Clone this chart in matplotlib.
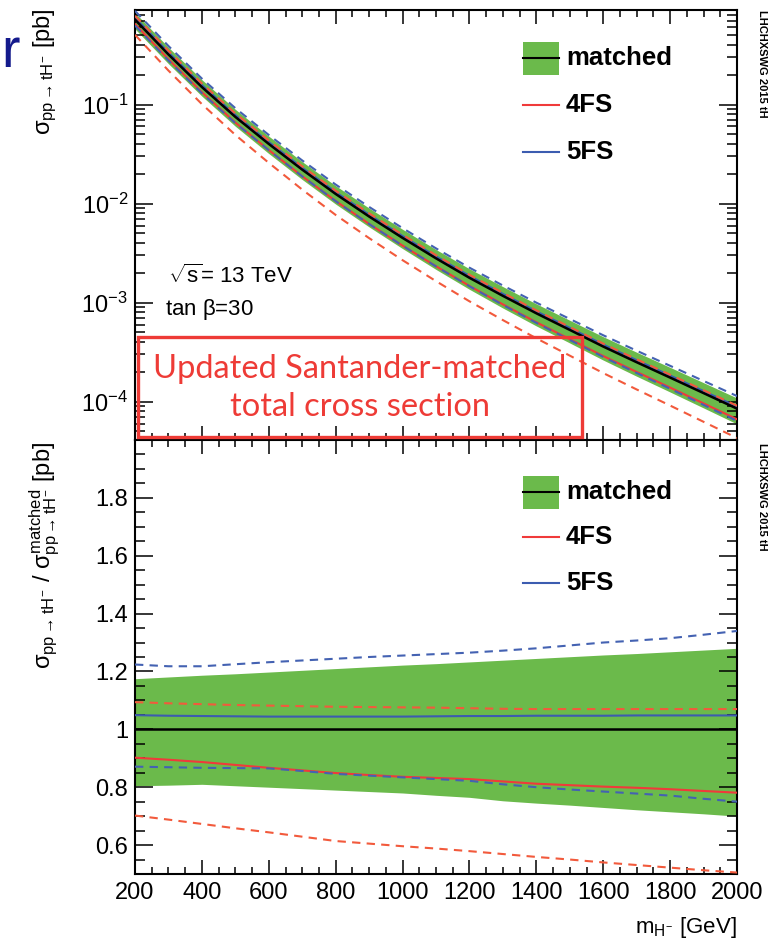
import math
import matplotlib
matplotlib.use("Agg")
import matplotlib.pyplot as plt
from matplotlib.patches import Rectangle
from matplotlib.lines import Line2D
from matplotlib.ticker import MultipleLocator, FixedLocator, LogLocator, FuncFormatter, NullFormatter

plt.rcParams['font.family'] = ['Liberation Sans', 'DejaVu Sans']
plt.rcParams['mathtext.fontset'] = 'custom'
plt.rcParams['mathtext.rm'] = 'Liberation Sans'
plt.rcParams['mathtext.it'] = 'Liberation Sans'
plt.rcParams['mathtext.bf'] = 'Liberation Sans:bold'

# ---------------- data ----------------
mass = [200, 300, 400, 500, 600, 700, 800, 900, 1000, 1100, 1200,
        1300, 1400, 1500, 1600, 1700, 1800, 1900, 2000]
xsec_matched = [0.72, 0.32, 0.15, 0.075, 0.040, 0.022, 0.0125, 0.0074, 0.0045,
                0.0028, 0.00178, 0.00117, 0.00078, 0.00053, 0.00036, 0.00025,
                0.000175, 0.000122, 0.000085]
band_up = [1.175, 1.181, 1.187, 1.192, 1.198, 1.204, 1.210, 1.216, 1.222, 1.227,
           1.233, 1.239, 1.245, 1.251, 1.257, 1.262, 1.268, 1.274, 1.280]
band_dn = [0.805, 0.807, 0.810, 0.805, 0.800, 0.795, 0.790, 0.785, 0.780, 0.772,
           0.765, 0.753, 0.745, 0.738, 0.730, 0.722, 0.715, 0.708, 0.700]
ratio_4fs = [0.902, 0.895, 0.887, 0.877, 0.867, 0.858, 0.849, 0.842, 0.836, 0.832,
             0.828, 0.820, 0.812, 0.807, 0.802, 0.798, 0.793, 0.787, 0.781]
ratio_4fs_up = [1.094, 1.090, 1.087, 1.084, 1.082, 1.080, 1.078, 1.077, 1.076, 1.075,
                1.073, 1.071, 1.070, 1.070, 1.070, 1.070, 1.070, 1.070, 1.070]
ratio_4fs_dn = [0.702, 0.688, 0.673, 0.658, 0.644, 0.629, 0.614, 0.605, 0.596, 0.588,
                0.579, 0.569, 0.559, 0.550, 0.540, 0.531, 0.522, 0.513, 0.505]
ratio_5fs = [1.049, 1.047, 1.046, 1.045, 1.044, 1.044, 1.044, 1.044, 1.044, 1.045,
             1.046, 1.046, 1.047, 1.047, 1.047, 1.048, 1.048, 1.048, 1.048]
ratio_5fs_up = [1.224, 1.218, 1.218, 1.225, 1.232, 1.238, 1.244, 1.250, 1.255, 1.260,
                1.265, 1.272, 1.280, 1.290, 1.300, 1.307, 1.315, 1.327, 1.340]
ratio_5fs_dn = [0.871, 0.869, 0.867, 0.866, 0.865, 0.856, 0.846, 0.840, 0.834, 0.828,
                0.822, 0.810, 0.800, 0.792, 0.785, 0.778, 0.771, 0.760, 0.750]

xticks = [200, 400, 600, 800, 1000, 1200, 1400, 1600, 1800, 2000]
ratio_ticks = [0.6, 0.8, 1.0, 1.2, 1.4, 1.6, 1.8]
log_ticks = [1e-4, 1e-3, 1e-2, 1e-1]

GREEN = '#6bba4b'
RED = '#f03a3a'
REDD = '#f25a3c'
BLUE = '#3c5cb0'
BLUED = '#4462b2'
BOXRED = '#ee3b36'

W, H = 781, 942
fig = plt.figure(figsize=(W / 100, H / 100), dpi=100)

def fx(px):
    return px / W

def fy(py):
    return 1 - py / H

L, R = 135, 737
ax1 = fig.add_axes([fx(L), fy(440), fx(R - L), (440 - 10) / H])
ax2 = fig.add_axes([fx(L), fy(874), fx(R - L), (874 - 440) / H])

def prod(a, b):
    return [x * y for x, y in zip(a, b)]

DASH = (0, (4.0, 3.0))

# ---- top panel ----
ax1.fill_between(mass, prod(xsec_matched, band_dn), prod(xsec_matched, band_up),
                 color=GREEN, lw=0, zorder=1)
ax1.plot(mass, prod(xsec_matched, ratio_4fs), color=RED, lw=1.5, zorder=3)
ax1.plot(mass, prod(xsec_matched, ratio_5fs), color=BLUE, lw=1.5, zorder=3)
ax1.plot(mass, xsec_matched, color='black', lw=1.8, zorder=4)
for r, c in [(ratio_4fs_up, REDD), (ratio_4fs_dn, REDD), (ratio_5fs_up, BLUED), (ratio_5fs_dn, BLUED)]:
    ax1.plot(mass, prod(xsec_matched, r), color=c, lw=1.5, ls=DASH, zorder=5)
ax1.set_yscale('log')
ax1.set_xlim(200, 2000)
ax1.set_ylim(4.1e-5, 0.9)
ax1.yaxis.set_major_locator(FixedLocator(log_ticks))
ax1.yaxis.set_major_formatter(FuncFormatter(lambda v, p: r'$10^{%d}$' % round(math.log10(v))))
ax1.yaxis.set_minor_locator(LogLocator(base=10, subs=[2, 3, 4, 5, 6, 7, 8, 9], numticks=20))
ax1.yaxis.set_minor_formatter(NullFormatter())
ax1.xaxis.set_major_locator(FixedLocator(xticks))
ax1.xaxis.set_minor_locator(MultipleLocator(50))
ax1.xaxis.set_major_formatter(NullFormatter())

# ---- bottom panel ----
ax2.fill_between(mass, band_dn, band_up, color=GREEN, lw=0, zorder=1)
ax2.axhline(1.0, color='black', lw=1.8, zorder=4)
ax2.plot(mass, ratio_4fs, color=RED, lw=1.5, zorder=3)
ax2.plot(mass, ratio_5fs, color=BLUE, lw=1.5, zorder=3)
for r, c in [(ratio_4fs_up, REDD), (ratio_4fs_dn, REDD), (ratio_5fs_up, BLUED), (ratio_5fs_dn, BLUED)]:
    ax2.plot(mass, r, color=c, lw=1.5, ls=DASH, zorder=5)
ax2.set_xlim(200, 2000)
ax2.set_ylim(0.5, 2.0)
ax2.yaxis.set_major_locator(FixedLocator(ratio_ticks))
ax2.yaxis.set_major_formatter(FuncFormatter(lambda v, p: '%g' % v))
ax2.yaxis.set_minor_locator(MultipleLocator(0.05))
ax2.xaxis.set_major_locator(FixedLocator(xticks))
ax2.xaxis.set_minor_locator(MultipleLocator(50))

for ax in (ax1, ax2):
    for s in ax.spines.values():
        s.set_linewidth(1.5)
    ax.tick_params(which='both', direction='in', top=True, right=True, width=1.1,
                   labelsize=17, pad=5)
    ax.tick_params(axis='y', which='major', length=13)
    ax.tick_params(axis='y', which='minor', length=7)
    ax.tick_params(axis='x', which='major', length=10)
    ax.tick_params(axis='x', which='minor', length=5)
ax2.tick_params(axis='x', pad=6)

# ---- legends (drawn by hand) ----
def legend(y_m, y_4, y_5):
    fig.add_artist(Rectangle((fx(523), fy(y_m + 16.5)), fx(36), 33 / H,
                             facecolor=GREEN, edgecolor='none', transform=fig.transFigure))
    fig.add_artist(Line2D([fx(523), fx(559)], [fy(y_m), fy(y_m)], color='black', lw=1.5,
                          transform=fig.transFigure))
    fig.add_artist(Line2D([fx(523), fx(559)], [fy(y_4), fy(y_4)], color=RED, lw=1.5,
                          transform=fig.transFigure))
    fig.add_artist(Line2D([fx(523), fx(559)], [fy(y_5), fy(y_5)], color=BLUE, lw=1.5,
                          transform=fig.transFigure))
    for t, yy in [('matched', y_m), ('4FS', y_4), ('5FS', y_5)]:
        fig.text(fx(566), fy(yy), t, fontsize=18.5, fontweight='bold', ha='left', va='center')

legend(58, 105, 152)
legend(492, 537, 583)

# ---- texts ----
fig.text(fx(168), fy(276), r'$\sqrt{s}$= 13 TeV', fontsize=16, ha='left', va='center')
fig.text(fx(165), fy(310), r'tan $\beta$=30', fontsize=16, ha='left', va='center')

fig.text(fx(45), fy(8), r'$\sigma_{pp \rightarrow tH^{-}}$ [pb]', rotation=90,
         fontsize=17, ha='center', va='top')
fig.text(fx(45), fy(442), r'$\sigma_{pp \rightarrow tH^{-}}$ / $\sigma^{\rm matched}_{pp \rightarrow tH^{-}}$ [pb]',
         rotation=90, fontsize=17, ha='center', va='top')
fig.text(fx(737), fy(928), r'$m_{H^{-}}$ [GeV]', fontsize=16, ha='right', va='center')

fig.text(fx(762), fy(10), 'LHCHXSWG 2015 tH', rotation=-90, fontsize=8,
         fontweight='bold', ha='center', va='top')
fig.text(fx(762), fy(443), 'LHCHXSWG 2015 tH', rotation=-90, fontsize=8,
         fontweight='bold', ha='center', va='top')

fig.text(fx(1), fy(67), 'r', fontsize=40, color='#141a8c', ha='left', va='baseline')

# ---- red annotation box ----
fig.add_artist(Rectangle((fx(138), fy(437)), fx(582 - 138), (437 - 337) / H,
                         facecolor='none', edgecolor=BOXRED, lw=2.4,
                         transform=fig.transFigure, zorder=10))
fig.text(fx(360), fy(369), 'Updated Santander-matched', fontsize=23.5, color=BOXRED,
         family='Lato', ha='center', va='center')
fig.text(fx(360), fy(407), 'total cross section', fontsize=23.5, color=BOXRED,
         family='Lato', ha='center', va='center')

fig.savefig('out.png', dpi=100)
